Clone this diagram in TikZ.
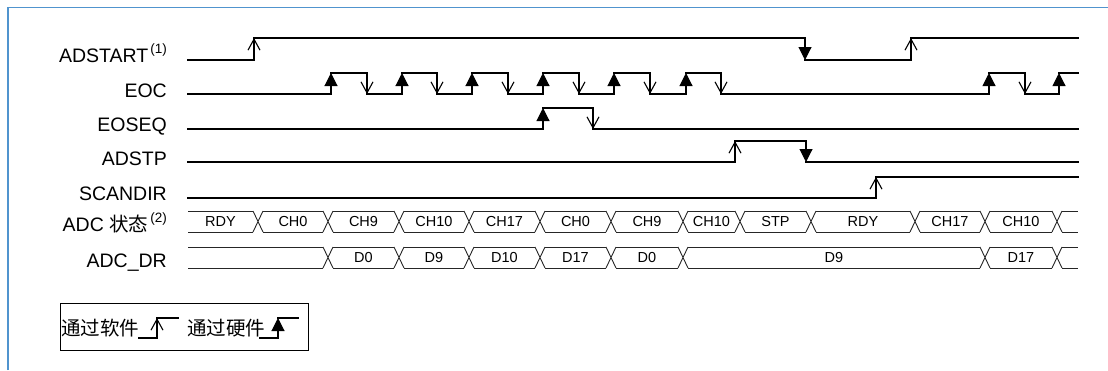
\documentclass[tikz,border=0pt]{standalone}
\usepackage{fontspec}
\setmainfont{Liberation Sans}
\newfontfamily\cjk{Noto Sans CJK SC}
\usetikzlibrary{arrows.meta}

\definecolor{framebl}{RGB}{80,148,206}

\begin{document}
\begin{tikzpicture}[x=1pt,y=-1pt,
    sig/.style={line width=1.1pt,line cap=rect},
    bus/.style={line width=0.9pt,black!85},
    sw/.style={-{Straight Barb[length=11pt,width=12pt]}},
    hw/.style={-{Triangle[length=13pt,width=13pt]}},
    lab/.style={anchor=base east,inner sep=0pt,font=\fontsize{19.5}{21}\selectfont},
    cell/.style={inner sep=0pt,font=\fontsize{14.5}{16}\selectfont},
    note/.style={anchor=base west,inner sep=0pt,font=\cjk\fontsize{19.5}{21}\selectfont}]
    \useasboundingbox (0,0) rectangle (1108,370);

    % Frame
    \draw[framebl,line width=1.8pt] (8,370) -- (8,7.5) -- (1108,7.5);

    % Signal names
    \node[lab] (adstart) at (167,62) {ADSTART\hspace{2pt}\raisebox{9pt}{\fontsize{13.5}{14}\selectfont(1)}};
    \node[lab] (eoc) at (167,97) {EOC};
    \node[lab] (eoseq) at (167,131) {EOSEQ};
    \node[lab] (adstp) at (167,165) {ADSTP};
    \node[lab] (scandir) at (167,200) {SCANDIR};
    \node[lab] (adcstate) at (167,231) {ADC {\cjk 状态}\hspace{2pt}\raisebox{9pt}{\fontsize{13.5}{14}\selectfont(2)}};
    \node[lab] (adcdr) at (167,267) {ADC\_DR};

    % ADSTART
    \draw[sig] (188,60) -- (254,60) (254,38) -- (805,38) (805,60) -- (911,60) (911,38) -- (1078,38);
    \draw[sig,sw] (254,60) -- (254,38);
    \draw[sig,hw] (805,38) -- (805,60);
    \draw[sig,sw] (911,60) -- (911,38);

    % EOC
    \foreach \r/\f [remember=\f as \lf (initially 188)] in {331/367,402/437,472/508,543/579,614/650,686/721,989/1025}{
      \draw[sig] (\lf,94) -- (\r,94);
      \draw[sig,hw] (\r,94) -- (\r,73);
      \draw[sig] (\r,73) -- (\f,73);
      \draw[sig,sw] (\f,73) -- (\f,94);
    }
    \draw[sig] (1025,94) -- (1059,94) (1059,73) -- (1078,73);
    \draw[sig,hw] (1059,94) -- (1059,73);

    % EOSEQ
    \draw[sig] (188,129) -- (543,129) (543,108) -- (593,108) (593,129) -- (1078,129);
    \draw[sig,hw] (543,129) -- (543,108);
    \draw[sig,sw] (593,108) -- (593,129);

    % ADSTP
    \draw[sig] (188,162) -- (735,162) (735,141) -- (806,141) (806,162) -- (1078,162);
    \draw[sig,sw] (735,162) -- (735,141);
    \draw[sig,hw] (806,141) -- (806,162);

    % SCANDIR
    \draw[sig] (188,198) -- (876,198) (876,177) -- (1078,177);
    \draw[sig,sw] (876,198) -- (876,177);

    % ADC state bus
    \foreach \a/\b/\txt [count=\i] in {183/258/RDY,258/328/CH0,328/399/CH9,399/469/CH10,469/540/CH17,540/611/CH0,611/683/CH9,683/740/CH10,740/811/STP,811/915/RDY,915/985/CH17,985/1057/CH10,1057/1083/{}}{
      \draw[bus] (\a+5,211) -- (\b-5,211) (\a+5,232) -- (\b-5,232);
      \node[cell] (st\i) at ({(\a+\b)/2},221.5) {\txt};
    }
    \foreach \x in {258,328,399,469,540,611,683,740,811,915,985,1057}
      \draw[bus] (\x-5,211) -- (\x+5,232) (\x-5,232) -- (\x+5,211);

    % ADC_DR bus
    \foreach \a/\b/\txt [count=\i] in {183/328/{},328/399/D0,399/469/D9,469/540/D10,540/611/D17,611/683/D0,683/985/D9,985/1057/D17,1057/1083/{}}{
      \draw[bus] (\a+5,247) -- (\b-5,247) (\a+5,268) -- (\b-5,268);
      \node[cell] (dr\i) at ({(\a+\b)/2},257.5) {\txt};
    }
    \foreach \x in {328,399,469,540,611,683,985,1057}
      \draw[bus] (\x-5,247) -- (\x+5,268) (\x-5,268) -- (\x+5,247);

    % Legend
    \draw[line width=0.9pt] (60,303) rectangle (308,350);
    \node[note] (swnote) at (61,335.5) {通过软件};
    \draw[line width=1.8pt] (138,338) -| (157,328);
    \draw[sig,sw] (157,338) -- (157,318);
    \draw[sig] (157,318) -- (178,318);
    \node[note] (hwnote) at (187,335.5) {通过硬件};
    \draw[line width=1.8pt] (259,338) -| (278,328);
    \draw[sig,hw] (278,338) -- (278,318);
    \draw[sig] (278,318) -- (298,318);
\end{tikzpicture}
\end{document}
